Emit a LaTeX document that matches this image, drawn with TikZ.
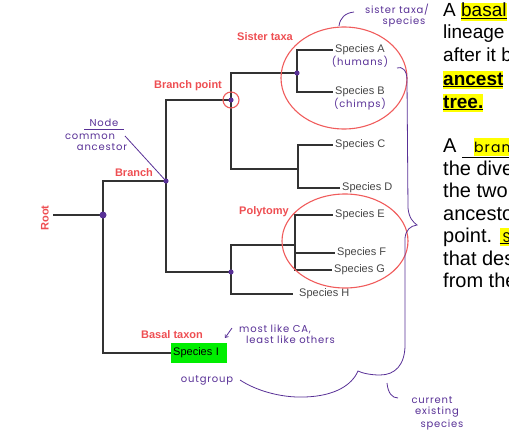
\documentclass[tikz,border=0pt]{standalone}
\usepackage{fontspec}
\setmainfont{Liberation Sans}
\newfontfamily\handfont[LetterSpace=8]{Poppins}
\usetikzlibrary{positioning,calc,arrows.meta}

\definecolor{labelred}{RGB}{238,78,82}
\definecolor{ringred}{RGB}{240,92,92}
\definecolor{inkpurple}{RGB}{88,48,150}
\definecolor{treegray}{RGB}{50,50,50}
\definecolor{spgray}{RGB}{70,70,70}
\definecolor{boxgreen}{RGB}{0,238,0}
\definecolor{hlyellow}{RGB}{255,255,0}

\newcommand\hlbox[1]{{\setlength{\fboxsep}{0pt}\colorbox{hlyellow}{\rule[-4pt]{0pt}{18pt}#1}}}

\tikzset{
  branch/.style={draw=treegray, line width=1.3pt},
  species/.style={anchor=west, text=spgray, font=\fontsize{11}{12}\selectfont, inner xsep=2pt, inner ysep=1pt},
  tag/.style={text=labelred, font=\bfseries\fontsize{11}{12}\selectfont, inner sep=1pt},
  ink/.style={text=inkpurple, font=\handfont\fontsize{10}{11}\selectfont, inner sep=1pt},
  inkline/.style={draw=inkpurple, line width=0.8pt},
  ring/.style={draw=ringred, line width=1.1pt},
  note/.style={anchor=base west, font=\fontsize{19}{21}\selectfont, inner sep=0pt},
  bignote/.style={note, font=\fontsize{20}{22}\selectfont},
}

\begin{document}
\begin{tikzpicture}[x=1pt,y=-1pt]
\useasboundingbox (0,0) rectangle (509,444);

% internal nodes of the tree
\coordinate (rootend) at (53,215);
\coordinate (n0) at (103,215);
\coordinate (n1) at (166,181);
\coordinate (n2) at (231,100);
\coordinate (n3) at (297,73);
\coordinate (n4) at (298,169);
\coordinate (n5) at (231,272);
\coordinate (n6) at (295,245);

% tips
\node[species] (spA) at (333,50) {Species A};
\node[species] (spB) at (333,92) {Species B};
\node[species] (spC) at (333,145) {Species C};
\node[species] (spD) at (340,188) {Species D};
\node[species] (spE) at (333,215) {Species E};
\node[species] (spF) at (335,253) {Species F};
\node[species] (spG) at (332,270) {Species G};
\node[species, inner xsep=6pt] (spH) at (293,294) {Species H};
\node[anchor=west, fill=boxgreen, text=black, font=\fontsize{11}{12}\selectfont,
      minimum height=20pt, text width=52pt, inner xsep=2pt] (spI) at (171,353) {Species I};

% branches
\draw[branch] (rootend) -- (n0);
\draw[branch] (n0) |- (n1);
\draw[branch] (n0) |- (spI.west);
\draw[branch] (n1) |- (n2);
\draw[branch] (n1) |- (n5);
\draw[branch] (n2) |- (n3);
\draw[branch] (n2) |- (n4);
\draw[branch] (n3) |- (spA.west);
\draw[branch] (n3) |- (spB.west);
\draw[branch] (n4) |- (spC.west);
\draw[branch] (n4) |- (spD.west);
\draw[branch] (n5) |- (n6);
\draw[branch] (n5) |- (spH.west);
\draw[branch] (n6) |- (spE.west);
\draw[branch] (n6) |- (spF.west);
\draw[branch] (n6) |- (spG.west);

% dots
\fill[inkpurple] (n0) circle (3.5pt);
\foreach \n in {n1,n2,n3,n5} \fill[inkpurple] (\n) circle (2.6pt);

% red rings
\draw[ring] (n2) circle (8pt);
\draw[ring] (344,78) ellipse [x radius=63pt, y radius=51pt];
\draw[ring] (345,241) ellipse [x radius=63pt, y radius=47pt];

% red labels
\node[tag, rotate=90] (roottag) at (45,218) {Root};
\node[tag] (branchtag) at (134,173) {Branch};
\node[tag] (bptag) at (188,86) {Branch point};
\node[tag] (sistertag) at (265,37) {Sister taxa};
\node[tag] (polytag) at (264,212) {Polytomy};
\node[tag] (basaltag) at (172,335) {Basal taxon};

% handwritten notes
\node[ink] (nodeword) at (104,123) {Node};
\draw[inkline] ($(nodeword.south west)+(-4,1)$) -- ($(nodeword.south east)+(4,1)$);
\node[ink] (common) at (90,137) {common};
\node[ink] (ancestor) at (102,147) {ancestor};
\coordinate (nodetip) at (125,136);
\draw[inkline] (nodetip) -- (n1);

\node[ink] (sister1) at (397,10) {sister taxa/};
\node[ink] (sister2) at (404,22) {species};
\draw[inkline] (354,12) .. controls (345,13) and (340,18) .. (339,26);

\node[ink, below=-1pt of spA] (humans) {(humans)};
\node[ink, below=-1pt of spB] (chimps) {(chimps)};

\node[ink, anchor=west] (mostlike) at (238,329) {most like CA,};
\node[ink, anchor=west] (leastlike) at (245,340) {least like others};
\draw[inkline, -{Straight Barb[length=2.5pt,width=4pt]}] (232,328) -- (225,338);

\node[ink] (outgroup) at (207,380) {outgroup};
\node[ink] (cur1) at (432,400) {current};
\node[ink] (cur2) at (437,412) {existing};
\node[ink] (cur3) at (442,425) {species};
\draw[inkline] (387,383) .. controls (388,393) and (392,398) .. (398,398);

% big brace round the living species
\draw[inkline] (397,68) .. controls (402,66) and (407,70) .. (407,80)
  -- (408,208) .. controls (409,218) and (413,222) .. (417,225)
  .. controls (410,226) and (406,230) .. (405,238)
  -- (405,345) .. controls (405,365) and (395,375) .. (380,375)
  .. controls (370,375) and (362,373) .. (358,371)
  .. controls (352,385) and (335,396) .. (305,397)
  .. controls (280,398) and (255,390) .. (240,380);

% text on the right, cut at the edge
\begin{scope}
\clip (420,0) rectangle (509,444);
\node[note] (p1a) at (443,17) {A \hlbox{\underline{basal}}};
\node[note] (p1b) at (443,39) {lineage};
\node[note] (p1c) at (443,62) {after it b};
\node[note] (p1d) at (443,85) {\hlbox{\bfseries\underline{ancest}}};
\node[note] (p1e) at (443,108) {\hlbox{\bfseries\underline{tree.}}};
\node[bignote] (p2a) at (443,152) {A \underline{\hspace{12pt}\hlbox{{\handfont\fontsize{14}{14}\selectfont bran}}}};
\node[bignote] (p2b) at (443,175) {the dive};
\node[bignote] (p2c) at (443,197) {the two};
\node[bignote] (p2d) at (443,220) {ancesto};
\node[bignote] (p2e) at (443,242) {point. \hlbox{\underline{\hspace{3pt}{\handfont\fontsize{14}{14}\selectfont S}}}};
\node[bignote] (p2f) at (443,265) {that des};
\node[bignote] (p2g) at (443,287) {from the};
\end{scope}
\end{tikzpicture}
\end{document}
